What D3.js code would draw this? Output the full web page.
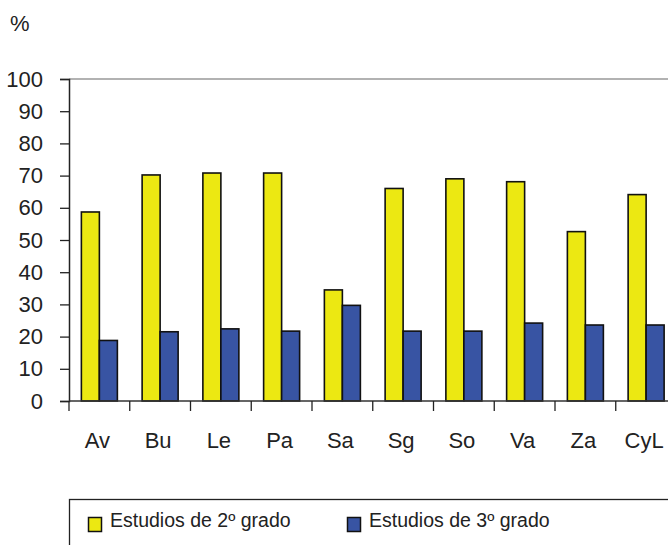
<!DOCTYPE html>
<html>
<head>
<meta charset="utf-8">
<style>
  body { margin: 0; background: #fff; }
  text { font-family: "Liberation Sans", Arial, sans-serif; fill: #222; }
</style>
</head>
<body>
<script src="https://d3js.org/d3.v7.min.js"></script>
<script>
  // data
  const categories = ['Av', 'Bu', 'Le', 'Pa', 'Sa', 'Sg', 'So', 'Va', 'Za', 'CyL']
  const series = ['Estudios de 2º grado', 'Estudios de 3º grado']
  const segundo = [58.7, 70.2, 70.8, 70.8, 34.5, 66, 69, 68.1, 52.6, 64.1]
  const tercero = [18.8, 21.5, 22.4, 21.7, 29.7, 21.7, 21.7, 24.2, 23.6, 23.6]
  const yTicks = [0, 10, 20, 30, 40, 50, 60, 70, 80, 90, 100]
  const colors = ['#ece812', '#3854a3']

  const data = categories.map((c, i) => ({ cat: c, values: [segundo[i], tercero[i]] }))

  const width = 668
  const height = 545
  const left = 69
  const step = 60.75

  const svg = d3.select('body').append('svg')
    .attr('width', width)
    .attr('height', height)

  // scales
  const x = d3.scaleBand()
    .domain(categories)
    .range([left, left + step * categories.length])
    .padding(0)

  const sub = d3.scaleBand()
    .domain([0, 1])
    .range([0, x.bandwidth()])
    .paddingInner(0)
    .paddingOuter(0.6875)

  const y = d3.scaleLinear()
    .domain([0, 100])
    .range([401, 79])

  // top line at 100
  svg.append('line')
    .attr('x1', left).attr('x2', width)
    .attr('y1', y(100)).attr('y2', y(100))
    .attr('stroke', '#999').attr('stroke-width', 1.5)

  // bars
  const groups = svg.selectAll('g.cat')
    .data(data)
    .enter().append('g')
    .attr('class', 'cat')
    .attr('transform', d => `translate(${x(d.cat)},0)`)

  groups.selectAll('rect')
    .data(d => d.values)
    .enter().append('rect')
    .attr('x', (d, i) => sub(i))
    .attr('y', d => y(d))
    .attr('width', sub.bandwidth())
    .attr('height', d => y(0) - y(d))
    .attr('fill', (d, i) => colors[i])
    .attr('stroke', '#111')
    .attr('stroke-width', 1.6)

  // y axis
  const yAxis = d3.axisLeft(y)
    .tickValues(yTicks)
    .tickSize(9)
    .tickPadding(17)
  const gy = svg.append('g')
    .attr('transform', `translate(${left},0)`)
    .call(yAxis)
  gy.select('.domain').attr('stroke', '#222').attr('stroke-width', 1.5)
  gy.selectAll('.tick line').attr('stroke', '#222').attr('stroke-width', 1.3)
  gy.selectAll('.tick text')
    .attr('font-size', 22)
    .attr('font-family', '"Liberation Sans", Arial, sans-serif')
    .attr('fill', '#222')

  // x axis: ticks at band boundaries, labels at centres
  const gx = svg.append('g')
  gx.append('line')
    .attr('x1', left).attr('x2', width)
    .attr('y1', y(0)).attr('y2', y(0))
    .attr('stroke', '#333').attr('stroke-width', 1.5)
  gx.selectAll('line.tk')
    .data(categories)
    .enter().append('line')
    .attr('class', 'tk')
    .attr('x1', d => x(d)).attr('x2', d => x(d))
    .attr('y1', y(0)).attr('y2', y(0) + 10)
    .attr('stroke', '#222').attr('stroke-width', 1.3)
  gx.selectAll('text')
    .data(categories)
    .enter().append('text')
    .attr('x', d => x(d) + x.bandwidth() / 2 - 2)
    .attr('y', 448)
    .attr('text-anchor', 'middle')
    .attr('font-size', 22)
    .text(d => d)

  // unit
  svg.append('text')
    .attr('x', 10).attr('y', 31)
    .attr('font-size', 22)
    .text('%')

  // legend
  svg.append('rect')
    .attr('x', 69.5).attr('y', 499.5)
    .attr('width', 700).attr('height', 100)
    .attr('fill', 'none')
    .attr('stroke', '#222').attr('stroke-width', 1.3)

  const legendX = [88, 347]
  const leg = svg.selectAll('g.leg')
    .data(series)
    .enter().append('g')
    .attr('class', 'leg')
    .attr('transform', (d, i) => `translate(${legendX[i]},517)`)
  leg.append('rect')
    .attr('x', 0.5).attr('y', 0.5)
    .attr('width', 13).attr('height', 14)
    .attr('fill', (d, i) => colors[i])
    .attr('stroke', '#111').attr('stroke-width', 1.5)
  leg.append('text')
    .attr('x', 22).attr('y', 9.5)
    .attr('font-size', 19.5)
    .text(d => d)
</script>
</body>
</html>
